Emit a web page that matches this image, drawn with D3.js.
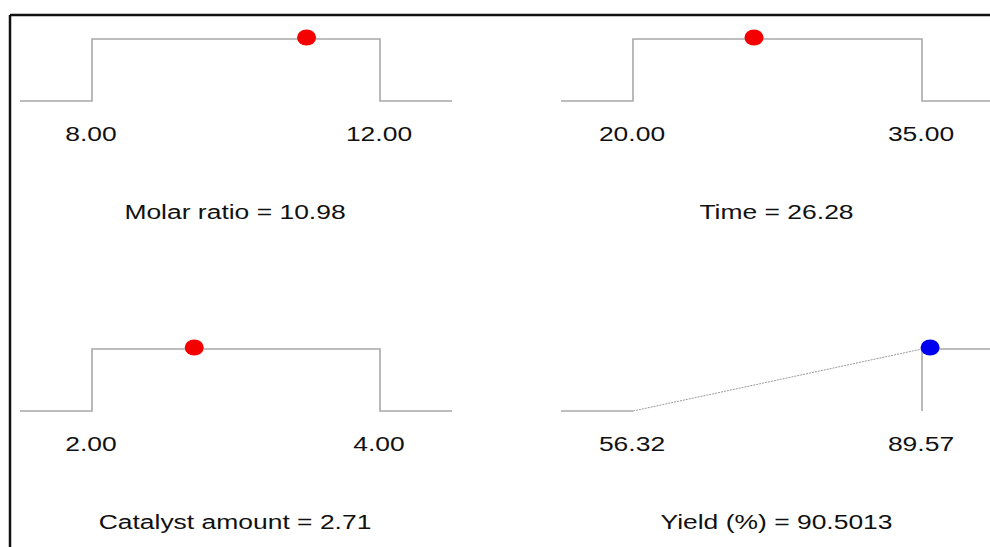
<!DOCTYPE html>
<html>
<head>
<meta charset="utf-8">
<script src="https://cdn.jsdelivr.net/npm/d3@7"></script>
<style>
  body { margin: 0; background: #fff; }
  svg text { font-family: "Liberation Sans", Arial, sans-serif; font-size: 21px; fill: #111; }
</style>
</head>
<body>
<svg id="chart" width="990" height="547"></svg>
<script>
// desirability ramps, one per factor / response
var names  = ['Molar ratio', 'Time', 'Catalyst amount', 'Yield (%)'];
var lows   = [8, 20, 2, 56.32];
var highs  = [12, 35, 4, 89.57];
var values = [10.98, 26.28, 2.71, 90.5013];
var valueLabels = ['10.98', '26.28', '2.71', '90.5013'];
var kinds  = ['range', 'range', 'range', 'maximize'];

var svg = d3.select('#chart');

// frame (only top + left edges show in the crop)
svg.append('line').attr('x1', 10).attr('x2', 990).attr('y1', 15).attr('y2', 15)
  .attr('stroke', '#111').attr('stroke-width', 2.5);
svg.append('line').attr('x1', 10).attr('x2', 10).attr('y1', 15).attr('y2', 547)
  .attr('stroke', '#111').attr('stroke-width', 2.5);

// panel layout
var cols = [{ x0: 92, x1: 380 }, { x0: 633, x1: 922 }];
var rows = [{ base: 101, top: 39 }, { base: 411, top: 349 }];
var pad = 72;
var stretch = 1.26;  // source image is stretched sideways

function label (g, tx, ty, str) {
  g.append('text').attr('transform', 'translate(' + tx + ',' + ty + ') scale(' + stretch + ',1)')
    .attr('text-anchor', 'middle').text(str);
}

names.forEach(function (name, i) {
  var c = cols[i % 2], r = rows[Math.floor(i / 2)];
  var x = d3.scaleLinear().domain([lows[i], highs[i]]).range([c.x0, c.x1]);
  var y = d3.scaleLinear().domain([0, 1]).range([r.base, r.top]);
  var lo = x.invert(c.x0 - pad), hi = x.invert(c.x1 + pad);
  var g = svg.append('g');

  var line = d3.line().x(function (d) { return x(d[0]) }).y(function (d) { return y(d[1]) });
  var pts, dotColor;
  if (kinds[i] == 'range') {
    pts = [[lo, 0], [lows[i], 0], [lows[i], 1], [highs[i], 1], [highs[i], 0], [hi, 0]];
    g.append('path').attr('d', line(pts)).attr('fill', 'none')
      .attr('stroke', '#a8a8a8').attr('stroke-width', 1.6);
    dotColor = '#f50000';
  } else {
    g.append('path').attr('d', line([[lo, 0], [lows[i], 0]])).attr('fill', 'none')
      .attr('stroke', '#a8a8a8').attr('stroke-width', 1.6);
    g.append('path').attr('d', line([[lows[i], 0], [highs[i], 1]])).attr('fill', 'none')
      .attr('stroke', '#9a9a9a').attr('stroke-width', 1).attr('stroke-dasharray', '2,1');
    g.append('path').attr('d', line([[highs[i], 0], [highs[i], 1], [hi, 1]])).attr('fill', 'none')
      .attr('stroke', '#a8a8a8').attr('stroke-width', 1.6);
    dotColor = '#0000f0';
  }

  g.append('ellipse').attr('cx', x(values[i])).attr('cy', y(1) - 1.5)
    .attr('rx', 9.5).attr('ry', 8).attr('fill', dotColor);

  // end labels
  [lows[i], highs[i]].forEach(function (d) {
    label(g, x(d) - 1, r.base + 40, d.toFixed(2));
  });

  label(g, (c.x0 + c.x1) / 2 - 1, r.base + 118, name + ' = ' + valueLabels[i]);
});
</script>
</body>
</html>
